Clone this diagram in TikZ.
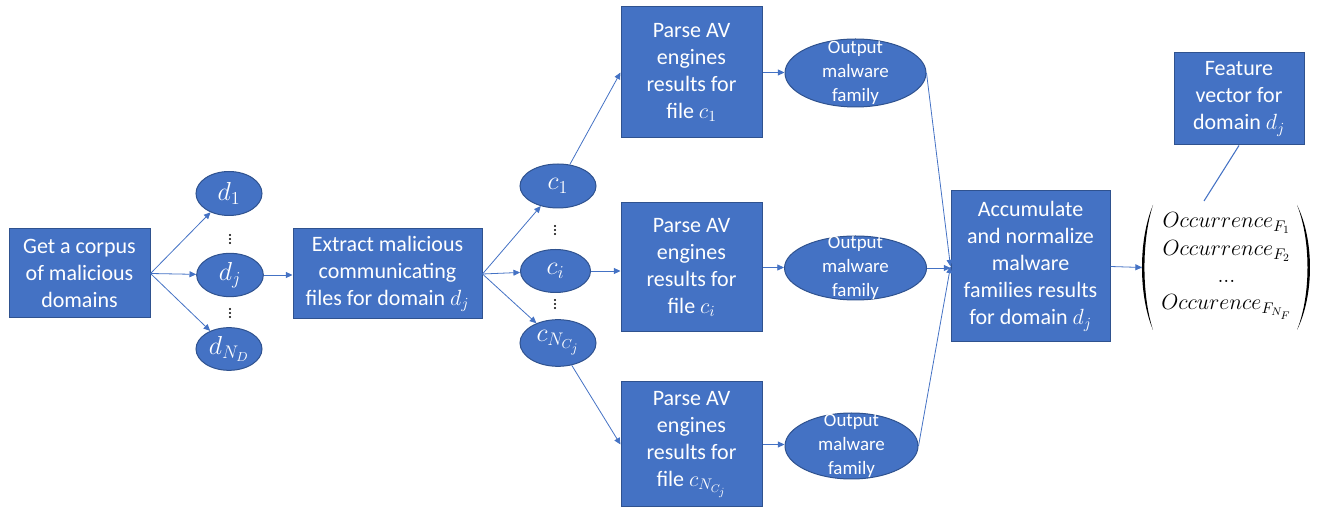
\documentclass[tikz,border=0pt]{standalone}
\usepackage{fix-cm}
\usepackage{fontspec}
\setmainfont{Carlito}
\usetikzlibrary{arrows.meta,shapes.geometric}
\definecolor{fillblue}{HTML}{4472C4}
\definecolor{edgeblue}{HTML}{2F528F}
\definecolor{lineblue}{HTML}{4472C4}
\begin{document}
\begin{tikzpicture}[x=0.75pt,y=-0.75pt,
 box/.style={rectangle, fill=fillblue, draw=edgeblue, line width=0.75pt, text=white, align=center, font=\fontsize{16.5}{20.25}\selectfont, inner sep=0pt},
 oval/.style={ellipse, fill=fillblue, draw=edgeblue, line width=0.75pt, text=white, inner sep=0pt, font=\fontsize{19.5}{22}\selectfont},
 ovtext/.style={text=white, align=center, font=\fontsize{14.2}{18}\selectfont, inner sep=0pt},
 arr/.style={draw=lineblue, line width=0.6pt, -{Triangle[length=5pt,width=4.5pt]}},
 vtext/.style={font=\fontsize{16.5}{18}\selectfont, inner sep=0pt, anchor=base},
 vdots/.pic={\fill[black] (0,-4) circle (1.1) (0,0) circle (1.1) (0,4) circle (1.1);}
]
\useasboundingbox (0,0) rectangle (1322,509);

% left column
\node[box, minimum width=105.75pt, minimum height=66.75pt] (corpus) at (79.5,273.5) {Get a corpus\\of malicious\\domains};
\node[oval, minimum width=49.5pt, minimum height=33pt] (d1) at (229,193.5) {$d_1$};
\node[oval, minimum width=50pt, minimum height=32.5pt] (dj) at (230,275) {$d_j$};
\node[oval, minimum width=49.5pt, minimum height=32pt] (dN) at (229,349) {$d_{N_D}$};
\pic at (230,239) {vdots};
\pic at (230,313) {vdots};

% extract
\node[box, minimum width=141.75pt, minimum height=67.5pt] (extract) at (387.5,274) {Extract malicious\\communicating\\files for domain $d_j$};
\node[oval, minimum width=57pt, minimum height=33pt] (c1) at (558,186) {$c_1$};
\node[oval, minimum width=52.5pt, minimum height=32.25pt] (ci) at (555.5,271) {$c_i$};
\node[oval, minimum width=57pt, minimum height=35pt] (cN) at (558,343) {$c_{N_{C_j}}$};
\pic at (555,230) {vdots};
\pic at (555,304) {vdots};

% parse boxes
\node[box, minimum width=105.75pt, minimum height=98.25pt] (p1) at (691.5,72.5) {Parse AV\\engines\\results for\\file $c_1$};
\node[box, minimum width=105.75pt, minimum height=96.75pt] (p2) at (691.5,267.5) {Parse AV\\engines\\results for\\file $c_i$};
\node[box, minimum width=105.75pt, minimum height=93.75pt] (p3) at (691.5,444.5) {Parse AV\\engines\\results for\\file $c_{N_{C_j}}$};

% outputs
\node[oval, minimum width=105.75pt, minimum height=51pt] (o1) at (855.5,73) {};
\node[ovtext] (o1t) at (o1) {Output\\malware\\family};
\node[oval, minimum width=106.5pt, minimum height=48pt] (o2) at (855.5,268) {};
\node[ovtext] (o2t) at (o2) {Output\\malware\\family};
\node[oval, minimum width=99.75pt, minimum height=49.5pt] (o3) at (851.5,446) {};
\node[ovtext] (o3t) at (o3) {Output\\malware\\family};

% accumulate
\node[box, minimum width=119.25pt, minimum height=113.25pt] (acc) at (1030.5,266.5) {Accumulate\\and normalize\\malware\\families results\\for domain $d_j$};

% vector
\coordinate (lp) at (1142,267.5);
\fill[black] (1153,205) .. controls (1138.3,240) and (1138.3,295) .. (1153,330)
  .. controls (1141.6,295) and (1141.6,240) .. (1153,205) -- cycle;
\fill[black] (1297,205) .. controls (1314.3,240) and (1314.3,295) .. (1297,330)
  .. controls (1311,295) and (1311,240) .. (1297,205) -- cycle;
\node[vtext] (r1) at (1226.5,228) {$Occurrence_{F_1}$};
\node[vtext] (r2) at (1226.5,256) {$Occurrence_{F_2}$};
\node[vtext] (r3) at (1226.5,283) {$\mathrm{...}$};
\node[vtext] (r4) at (1226.5,310) {$Occurence_{F_{N_F}}$};

% feature box
\node[box, minimum width=97.5pt, minimum height=69pt] (feat) at (1239,99) {Feature\\vector for\\domain $d_j$};
\coordinate (vtop) at (1204,201);

% connectors
\draw[arr] (corpus.east) -- (d1);
\draw[arr] (corpus.east) -- (dj);
\draw[arr] (corpus.east) -- (dN);
\draw[arr] (dj.east) -- (dj.east -| extract.west);
\draw[arr] (extract.east) -- (c1);
\draw[arr] (extract.east) -- (ci);
\draw[arr] (extract.east) -- (cN);
\draw[arr] (c1) -- (p1.west);
\draw[arr] (ci.east) -- (ci.east -| p2.west);
\draw[arr] (cN) -- (p3.west);
\draw[arr] (p1.east) -- (p1.east -| o1.west);
\draw[arr] (p2.east) -- (p2.east -| o2.west);
\draw[arr] (p3.east) -- (p3.east -| o3.west);
\draw[arr] (o1.east) -- (acc.west);
\draw[arr] (o2.east) -- (o2.east -| acc.west);
\draw[arr] (o3.east) -- (acc.west);
\draw[arr] (acc.east) -- (lp);
\draw[draw=lineblue, line width=0.8pt] (feat.south) -- (vtop);
\end{tikzpicture}
\end{document}
